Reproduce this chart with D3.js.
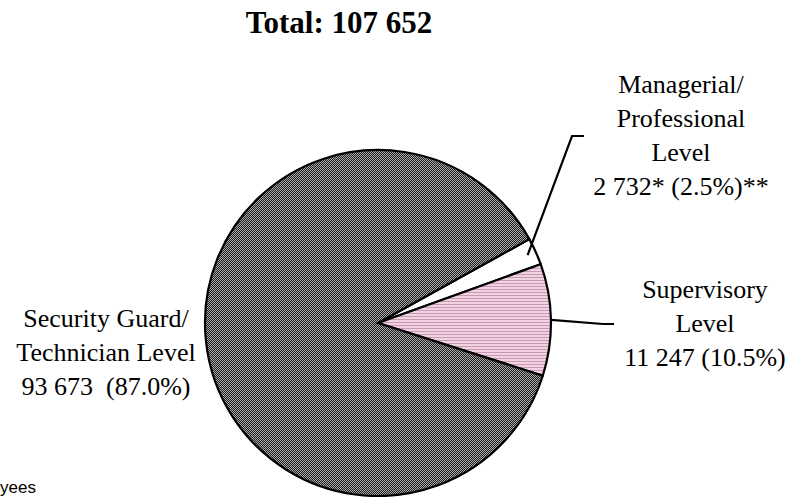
<!DOCTYPE html>
<html>
<head>
<meta charset="utf-8">
<script src="https://cdn.jsdelivr.net/npm/d3@7"></script>
<style>
  body { margin: 0; background: #fff; }
  svg { display: block; }
  text { font-family: 'Liberation Serif', 'Times New Roman', serif; fill: #000; white-space: pre; }
</style>
</head>
<body>
<div id="chart"></div>
<script>
// data
var categories = ['Managerial/Professional Level', 'Supervisory Level', 'Security Guard/Technician Level'];
var values = [2732, 11247, 93673];
var labelLines = [
  ['Managerial/', 'Professional', 'Level', '2 732* (2.5%)**'],
  ['Supervisory', 'Level', '11 247 (10.5%)'],
  ['Security Guard/', 'Technician Level', '93 673  (87.0%)']
];
var titleText = 'Total: 107 652';
var footText = 'yees';

(function(d3) {
  'use strict';
  var width = 794;
  var height = 497;
  var cx = 378, cy = 323;
  var radius = 173;
  var lineH = 34;

  var svg = d3.select('#chart')
    .append('svg')
    .attr('width', width)
    .attr('height', height);

  var defs = svg.append('defs');

  // dithered grey
  var pGrey = defs.append('pattern')
    .attr('id', 'dither')
    .attr('width', 2).attr('height', 2)
    .attr('patternUnits', 'userSpaceOnUse');
  pGrey.append('rect').attr('width', 2).attr('height', 2).attr('fill', '#ababab');
  pGrey.append('rect').attr('x', 0).attr('y', 0).attr('width', 1).attr('height', 1).attr('fill', '#1e1e1e');
  pGrey.append('rect').attr('x', 1).attr('y', 1).attr('width', 1).attr('height', 1).attr('fill', '#1e1e1e');

  // pink stripes
  var pPink = defs.append('pattern')
    .attr('id', 'stripes')
    .attr('width', 4).attr('height', 3)
    .attr('patternUnits', 'userSpaceOnUse');
  pPink.append('rect').attr('width', 4).attr('height', 3).attr('fill', '#f3d2e3');
  pPink.append('rect').attr('y', 2).attr('width', 4).attr('height', 1).attr('fill', '#c49ab0');

  var fills = ['#ffffff', 'url(#stripes)', 'url(#dither)'];

  var startA = 61 * Math.PI / 180;
  var pie = d3.pie()
    .value(function(d) { return d; })
    .sort(null)
    .startAngle(startA)
    .endAngle(startA + 2 * Math.PI);

  var arc = d3.arc()
    .innerRadius(0)
    .outerRadius(radius);

  var arcs = pie(values);

  var g = svg.append('g')
    .attr('transform', 'translate(' + cx + ',' + cy + ')');

  g.selectAll('path')
    .data(arcs)
    .enter()
    .append('path')
    .attr('d', arc)
    .attr('fill', function(d, i) { return fills[i]; })
    .attr('stroke', '#000')
    .attr('stroke-width', 2.2)
    .attr('stroke-linejoin', 'miter');

  // leader lines (elbow point, end point), relative to page
  var leaders = [
    { r: radius * 0.95, elbow: [572, 136], end: [584, 136] },
    { r: radius, elbow: [603, 324], end: [614, 324] },
    null
  ];

  function pointAt(d, r) {
    var a = (d.startAngle + d.endAngle) / 2;
    return [cx + r * Math.sin(a), cy - r * Math.cos(a)];
  }

  arcs.forEach(function(d, i) {
    var ld = leaders[i];
    if (!ld) return;
    var p0 = pointAt(d, ld.r);
    svg.append('polyline')
      .attr('points', [p0, ld.elbow, ld.end].map(function(p) { return p.join(','); }).join(' '))
      .attr('fill', 'none')
      .attr('stroke', '#000')
      .attr('stroke-width', 2.2);
  });

  // labels
  var labelPos = [[681, 93], [705, 298], [106, 327]];
  labelLines.forEach(function(lines, i) {
    var t = svg.append('text')
      .attr('text-anchor', 'middle')
      .attr('font-size', 26);
    lines.forEach(function(s, j) {
      t.append('tspan')
        .attr('x', labelPos[i][0])
        .attr('y', labelPos[i][1] + j * lineH)
        .text(s);
    });
  });

  svg.append('text')
    .attr('x', 339)
    .attr('y', 33)
    .attr('text-anchor', 'middle')
    .attr('font-size', 31)
    .attr('font-weight', 'bold')
    .text(titleText);

  svg.append('text')
    .attr('x', 0)
    .attr('y', 493)
    .attr('font-size', 17)
    .style('font-family', "'Liberation Sans', Arial, sans-serif")
    .text(footText);
})(window.d3);
</script>
</body>
</html>
